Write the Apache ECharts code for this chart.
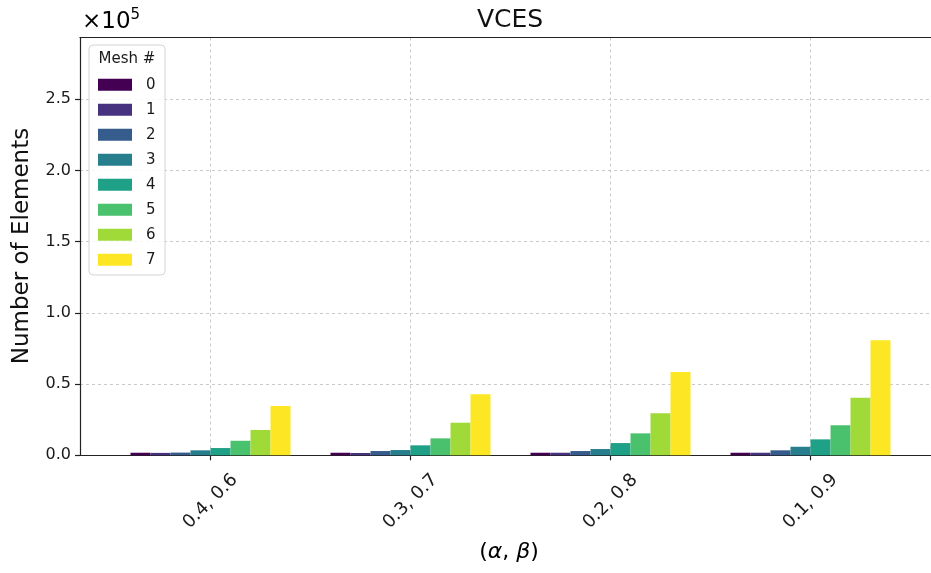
<!DOCTYPE html>
<html>
<head>
<meta charset="utf-8">
<script src="https://cdn.jsdelivr.net/npm/echarts@6/dist/echarts.min.js"></script>
<style>
  html, body { margin: 0; padding: 0; background: #fff; }
  #chart { width: 931px; height: 573px; }
</style>
</head>
<body>
<div id="chart"></div>
<script>
// (alpha, beta) parameter pairs
const categories = ['0.4, 0.6', '0.3, 0.7', '0.2, 0.8', '0.1, 0.9'];

// Element counts per mesh level
const mesh0 = [1800, 1800, 1800, 1800];
const mesh1 = [1700, 1600, 1800, 1800];
const mesh2 = [1900, 3000, 3000, 3500];
const mesh3 = [3500, 3700, 4400, 6000];
const mesh4 = [5100, 7000, 8600, 11200];
const mesh5 = [10200, 11900, 15400, 21100];
const mesh6 = [17800, 22900, 29500, 40400];
const mesh7 = [34600, 42800, 58500, 80800];

const meshNames = ['0', '1', '2', '3', '4', '5', '6', '7'];
const meshValues = [mesh0, mesh1, mesh2, mesh3, mesh4, mesh5, mesh6, mesh7];

// y ticks, in units of 1e5
const yTicks = [0.0, 0.5, 1.0, 1.5, 2.0, 2.5];
const yMax = 293400;

const viridis = ['#440154', '#46327e', '#365c8d', '#277f8e', '#1fa187', '#4ac16d', '#a0da39', '#fde725'];

const FONT = 'DejaVu Sans';
const TOP = 37.5, BOTTOM = 573 - 455.3;

const chart = echarts.init(document.getElementById('chart'), null, { renderer: 'canvas' });

const gridLine = { color: '#c4c4c4', width: 0.9, type: [3, 3] };
const tickValues = yTicks.map(t => Math.round(t * 1e5));

const option = {
  animation: false,
  textStyle: { fontFamily: FONT },
  title: {
    text: 'VCES', left: 505, top: 3, textAlign: 'center',
    textStyle: { fontFamily: FONT, fontSize: 25, fontWeight: 'normal', color: '#111' }
  },
  grid: [
    // frame with y scale and horizontal grid
    { left: 80, right: -5, top: TOP, bottom: BOTTOM },
    // bars
    { left: 110.5, right: 931 - 910.5, top: TOP, bottom: BOTTOM },
    // vertical grid lines through category centres
    { left: 210.5, right: 931 - 810.5, top: TOP, bottom: BOTTOM }
  ],
  xAxis: [
    { gridIndex: 0, type: 'value', min: 0, max: 1, position: 'bottom',
      axisLine: { show: true, lineStyle: { color: '#222', width: 1.2 } },
      axisTick: { show: false }, axisLabel: { show: false }, splitLine: { show: false } },
    { gridIndex: 0, type: 'value', min: 0, max: 1, position: 'top',
      axisLine: { show: true, lineStyle: { color: '#222', width: 1.2 } },
      axisTick: { show: false }, axisLabel: { show: false }, splitLine: { show: false } },
    { gridIndex: 1, type: 'category', data: categories, position: 'bottom',
      axisLine: { show: false },
      axisTick: { show: true, alignWithLabel: true, length: 5, lineStyle: { color: '#222', width: 1.2 } },
      axisLabel: { rotate: 45, align: 'center', verticalAlign: 'middle', margin: 46,
        fontFamily: FONT, fontSize: 18, color: '#1a1a1a' },
      splitLine: { show: false } },
    { gridIndex: 2, type: 'category', data: categories, boundaryGap: false,
      axisLine: { show: false }, axisTick: { show: false }, axisLabel: { show: false },
      splitLine: { show: true, lineStyle: gridLine } }
  ],
  yAxis: [
    { gridIndex: 0, type: 'value', min: 0, max: yMax, interval: 50000,
      axisLine: { show: true, lineStyle: { color: '#222', width: 1.2 } },
      axisTick: { show: true, length: 5, customValues: tickValues, lineStyle: { color: '#222', width: 1.2 } },
      axisLabel: { fontFamily: FONT, fontSize: 16, color: '#1a1a1a', margin: 9,
        customValues: tickValues,
        formatter: v => (v / 1e5).toFixed(1) },
      splitLine: { show: true, lineStyle: gridLine } },
    { gridIndex: 1, type: 'value', min: 0, max: yMax, show: false, splitLine: { show: false } },
    { gridIndex: 2, type: 'value', min: 0, max: yMax, show: false, splitLine: { show: false } }
  ],
  legend: {
    data: meshNames,
    orient: 'vertical',
    left: 98, top: 77.2,
    padding: 0,
    itemWidth: 34, itemHeight: 12, itemGap: 10,
    icon: 'rect',
    z: 6,
    textStyle: { fontFamily: FONT, fontSize: 15, color: '#1a1a1a', lineHeight: 12, padding: [0, 0, 0, 9] }
  },
  graphic: [
    { type: 'rect', z: 4,
      shape: { x: 89, y: 45, width: 76, height: 230, r: 4 },
      style: { fill: 'rgba(255,255,255,0.85)', stroke: '#d4d4d4', lineWidth: 1 } },
    { type: 'text', z: 5,
      style: { text: 'Mesh #', x: 127, y: 59, textAlign: 'center', textVerticalAlign: 'middle',
        font: '15px "DejaVu Sans"', fill: '#1a1a1a' } },
    { type: 'text', z: 5,
      style: { text: '{n|×10}{s|5}', x: 82, y: 21, textVerticalAlign: 'middle',
        rich: {
          n: { fontFamily: FONT, fontSize: 23, color: '#111', verticalAlign: 'bottom', lineHeight: 26 },
          s: { fontFamily: FONT, fontSize: 15, color: '#111', verticalAlign: 'top', lineHeight: 26, padding: [0, 0, 8, 0] }
        } } },
    { type: 'text', z: 5, rotation: Math.PI / 2, x: 22, y: 246,
      style: { text: 'Number of Elements', textAlign: 'center', textVerticalAlign: 'middle',
        font: '23px "DejaVu Sans"', fill: '#111' } },
    { type: 'text', z: 5, x: 509, y: 552,
      style: { text: '{n|(}{i|α}{n|, }{i|β}{n|)}', textAlign: 'center', textVerticalAlign: 'middle',
        rich: {
          n: { fontFamily: FONT, fontSize: 22, color: '#111' },
          i: { fontFamily: FONT, fontSize: 22, fontStyle: 'italic', color: '#111' }
        } } }
  ],
  series: meshNames.map((name, k) => ({
    name,
    type: 'bar',
    xAxisIndex: 2,
    yAxisIndex: 1,
    data: meshValues[k],
    barGap: 0,
    barCategoryGap: '20%',
    itemStyle: { color: viridis[k] },
    emphasis: { disabled: true }
  }))
};

chart.setOption(option);
</script>
</body>
</html>
